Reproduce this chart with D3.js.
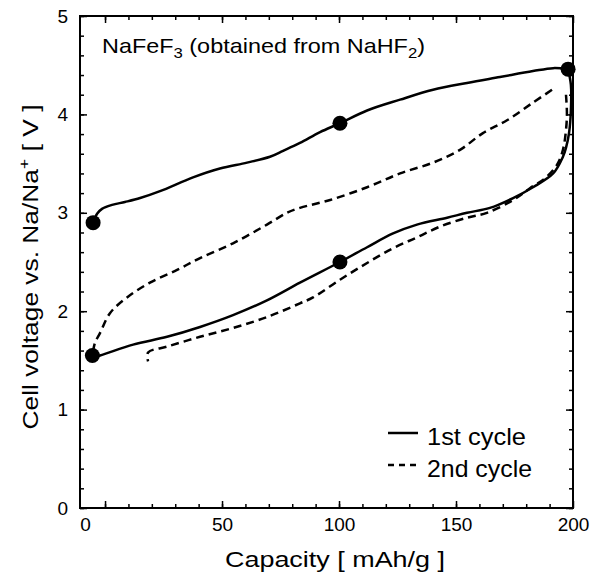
<!DOCTYPE html>
<html>
<head>
<meta charset="utf-8">
<script src="https://cdn.jsdelivr.net/npm/d3@7"></script>
<style>
  body { margin: 0; background: #fff; }
  text { font-family: "Liberation Sans", Arial, sans-serif; fill: #000; }
</style>
</head>
<body>
<div class="container"></div>
<script>
// 1st cycle, charge (solid, upper)
var charge1Cap = [-5.1, -3.4, -1.3, 3.0, 8.5, 15.0, 23.5, 37.6, 49.1, 60.7, 70.5, 76.1, 83.3, 91.9, 100.4, 112.0, 126.1, 140.2, 154.7, 168.8, 182.9, 191.5, 197.9];
var charge1V   = [2.90, 2.99, 3.04, 3.08, 3.11, 3.15, 3.22, 3.36, 3.45, 3.51, 3.57, 3.63, 3.71, 3.82, 3.91, 4.04, 4.15, 4.25, 4.32, 4.38, 4.44, 4.47, 4.46];

// 1st cycle, discharge (solid, lower)
var discharge1Cap = [197.9, 199.1, 199.1, 198.3, 197.0, 195.7, 191.5, 182.9, 174.4, 164.5, 154.7, 146.2, 133.3, 123.1, 112.0, 100.4, 83.3, 69.2, 54.7, 40.6, 26.5, 12.0, -2.1, -5.6];
var discharge1V   = [4.46, 4.30, 4.04, 3.81, 3.66, 3.57, 3.40, 3.26, 3.15, 3.05, 3.00, 2.95, 2.88, 2.79, 2.65, 2.50, 2.29, 2.11, 1.96, 1.84, 1.74, 1.66, 1.55, 1.53];

// 2nd cycle, charge (dashed, upper)
var charge2Cap = [-5.1, -4.3, -2.1, 2.1, 9.4, 19.2, 30.8, 40.6, 54.7, 69.2, 77.8, 83.3, 96.2, 112.0, 126.1, 140.2, 151.7, 161.5, 171.8, 182.9, 192.3];
var charge2V   = [1.59, 1.68, 1.78, 1.98, 2.14, 2.29, 2.42, 2.54, 2.69, 2.88, 3.00, 3.05, 3.13, 3.26, 3.40, 3.51, 3.64, 3.81, 3.94, 4.12, 4.27];

// 2nd cycle, discharge (dashed, lower)
var discharge2Cap = [197.0, 197.4, 197.0, 195.7, 193.2, 188.0, 181.6, 174.4, 163.2, 154.7, 143.2, 133.3, 123.1, 112.0, 100.4, 88.9, 83.3, 69.2, 54.7, 40.6, 26.5, 18.4, 18.4];
var discharge2V   = [4.20, 4.01, 3.84, 3.64, 3.49, 3.35, 3.25, 3.13, 3.00, 2.95, 2.86, 2.75, 2.64, 2.49, 2.32, 2.14, 2.08, 1.94, 1.83, 1.74, 1.64, 1.58, 1.49];

// marked points on the 1st cycle
var dotCap = [-5.1, 100.4, 197.9, 100.4, -5.4];
var dotV   = [2.90, 3.91, 4.46, 2.50, 1.55];

var xTicks = [0, 50, 100, 150, 200];
var yTicks = [0, 1, 2, 3, 4, 5];
var legendLabels = ["1st cycle", "2nd cycle"];

var w = 606, h = 577;

var svg = d3.select(".container")
    .append("svg")
    .attr("width", w)
    .attr("height", h);

var x = d3.scaleLinear().domain([-10.7, 200]).range([80, 573]);
var y = d3.scaleLinear().domain([0, 5]).range([508, 16]);

function pairs(a, b) {
    return a.map(function (d, i) { return [d, b[i]]; });
}

var line = d3.line()
    .x(function (d) { return x(d[0]); })
    .y(function (d) { return y(d[1]); })
    .curve(d3.curveCatmullRom.alpha(0.5));

// minor ticks, all four sides, pointing inward
var minorX = d3.range(0, 200, 10);
var minorY = d3.range(0, 5.01, 0.2);

svg.append("g").attr("transform", "translate(0,508)")
    .call(d3.axisBottom(x).tickValues(minorX).tickSize(-4).tickFormat(""));
svg.append("g").attr("transform", "translate(0,16)")
    .call(d3.axisTop(x).tickValues(minorX).tickSize(-4).tickFormat(""));
svg.append("g").attr("transform", "translate(80,0)")
    .call(d3.axisLeft(y).tickValues(minorY).tickSize(-4).tickFormat(""));
svg.append("g").attr("transform", "translate(573,0)")
    .call(d3.axisRight(y).tickValues(minorY).tickSize(-4).tickFormat(""));

// major ticks with labels
var xAxis = svg.append("g").attr("class", "xaxis").attr("transform", "translate(0,508)")
    .call(d3.axisBottom(x).tickValues(xTicks).tickSize(-7).tickPadding(10).tickFormat(d3.format("d")));
var yAxis = svg.append("g").attr("class", "yaxis").attr("transform", "translate(80,0)")
    .call(d3.axisLeft(y).tickValues(yTicks).tickSize(-7).tickPadding(12).tickFormat(d3.format("d")));
svg.append("g").attr("transform", "translate(0,16)")
    .call(d3.axisTop(x).tickValues(xTicks).tickSize(-7).tickFormat(""));
svg.append("g").attr("transform", "translate(573,0)")
    .call(d3.axisRight(y).tickValues(yTicks).tickSize(-7).tickFormat(""));

svg.selectAll(".domain").remove();
svg.selectAll(".tick line").attr("stroke", "#000").attr("stroke-width", 1.5);

svg.selectAll(".xaxis text, .yaxis text")
    .attr("font-size", "19px")
    .attr("font-family", "Liberation Sans, Arial, sans-serif")
    .attr("fill", "#000");
// the "0" label sits at the axis corner in the original
xAxis.selectAll(".tick text").filter(function (d) { return d === 0; }).attr("dx", -20);

// frame
svg.append("rect")
    .attr("x", 80).attr("y", 16)
    .attr("width", 493).attr("height", 492)
    .attr("fill", "none")
    .attr("stroke", "#000")
    .attr("stroke-width", 2);

// curves
svg.append("path").datum(pairs(charge2Cap, charge2V))
    .attr("d", line).attr("fill", "none").attr("stroke", "#000")
    .attr("stroke-width", 2.5).attr("stroke-dasharray", "8,5");
svg.append("path").datum(pairs(discharge2Cap, discharge2V))
    .attr("d", line).attr("fill", "none").attr("stroke", "#000")
    .attr("stroke-width", 2.5).attr("stroke-dasharray", "8,5");
svg.append("path").datum(pairs(charge1Cap, charge1V))
    .attr("d", line).attr("fill", "none").attr("stroke", "#000")
    .attr("stroke-width", 2.5);
svg.append("path").datum(pairs(discharge1Cap, discharge1V))
    .attr("d", line).attr("fill", "none").attr("stroke", "#000")
    .attr("stroke-width", 2.5);

svg.selectAll("circle.dot")
    .data(pairs(dotCap, dotV))
    .enter()
    .append("circle")
    .attr("class", "dot")
    .attr("cx", function (d) { return x(d[0]); })
    .attr("cy", function (d) { return y(d[1]); })
    .attr("r", 7.5)
    .attr("fill", "#000");

// title (the original type is wider than Liberation Sans, so stretch to its length)
var title = svg.append("text")
    .attr("x", 102).attr("y", 53)
    .attr("font-size", "21px")
    .attr("textLength", 323)
    .attr("lengthAdjust", "spacingAndGlyphs");
title.append("tspan").text("NaFeF");
title.append("tspan").attr("font-size", "15px").attr("dy", 5).text("3");
title.append("tspan").attr("dy", -5).text(" (obtained from NaHF");
title.append("tspan").attr("font-size", "15px").attr("dy", 5).text("2");
title.append("tspan").attr("dy", -5).text(")");

// legend
var legendWidth = [99, 105];
var legend = svg.selectAll("g.legend")
    .data(legendLabels)
    .enter()
    .append("g")
    .attr("class", "legend")
    .attr("transform", function (d, i) { return "translate(388," + (433 + i * 32) + ")"; });
legend.append("line")
    .attr("x1", 0).attr("x2", 30).attr("y1", 0).attr("y2", 0)
    .attr("stroke", "#000").attr("stroke-width", 2.5)
    .attr("stroke-dasharray", function (d, i) { return i === 1 ? "6,5" : null; });
legend.append("text")
    .attr("x", 39).attr("y", 12)
    .attr("font-size", "24px")
    .attr("textLength", function (d, i) { return legendWidth[i]; })
    .attr("lengthAdjust", "spacingAndGlyphs")
    .text(function (d) { return d; });

// axis titles
svg.append("text")
    .attr("text-anchor", "middle")
    .attr("x", 335).attr("y", 567)
    .attr("font-size", "22px")
    .attr("textLength", 220)
    .attr("lengthAdjust", "spacingAndGlyphs")
    .text("Capacity [ mAh/g ]");

var yTitle = svg.append("text")
    .attr("text-anchor", "middle")
    .attr("transform", "translate(38,267)rotate(-90)")
    .attr("font-size", "22px")
    .attr("textLength", 325)
    .attr("lengthAdjust", "spacingAndGlyphs");
yTitle.append("tspan").text("Cell voltage vs. Na/Na");
yTitle.append("tspan").attr("font-size", "15px").attr("dy", -9).text("+");
yTitle.append("tspan").attr("dy", 9).text(" [ V ]");
</script>
</body>
</html>
